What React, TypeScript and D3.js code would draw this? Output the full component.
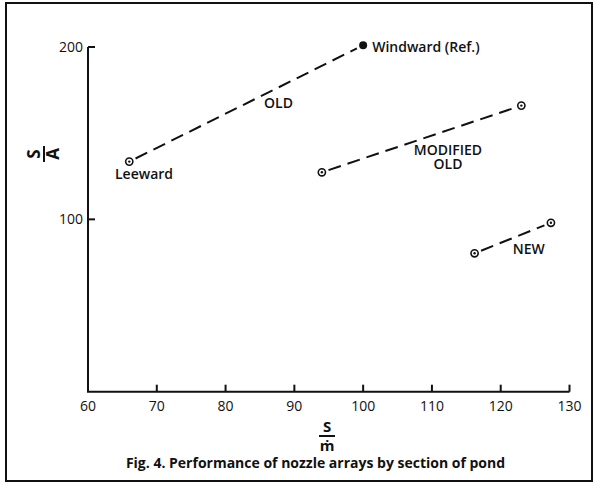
import * as d3 from "d3";

// ---- data ----
const series = ["OLD", "MODIFIED OLD", "NEW"];
const sPerMdot = [
  [66, 100], // OLD: Leeward -> Windward
  [94, 123], // MODIFIED OLD
  [116.2, 127.3], // NEW
];
const sPerA = [
  [133.5, 201],
  [127.3, 166],
  [80.3, 98],
];
const xTicks = [60, 70, 80, 90, 100, 110, 120, 130];
const yTicks = [100, 200];

const W = 594;
const H = 484;
const FONT = "'Open Sans', 'DejaVu Sans', sans-serif";
const INK = "#111";

export default function App() {
  const x = d3.scaleLinear().domain([60, 130]).range([88, 569.5]);
  const y = d3.scaleLinear().domain([0, 200]).range([391.7, 47]);
  const line = d3.line<[number, number]>().x((d) => x(d[0])).y((d) => y(d[1]));

  // trim dashed segment so it stops short of the markers
  const trimmed = (i: number): [number, number][] => {
    const [x0, x1] = sPerMdot[i];
    const [y0, y1] = sPerA[i];
    const px0 = x(x0), py0 = y(y0), px1 = x(x1), py1 = y(y1);
    const len = Math.hypot(px1 - px0, py1 - py0);
    const ux = (px1 - px0) / len, uy = (py1 - py0) / len;
    const g = 7;
    return [
      [x.invert(px0 + ux * g), y.invert(py0 + uy * g)],
      [x.invert(px1 - ux * g), y.invert(py1 - uy * g)],
    ];
  };

  const points = series.flatMap((s, i) =>
    sPerMdot[i].map((v, j) => ({ s, xv: v, yv: sPerA[i][j], solid: i === 0 && j === 1 }))
  );

  return (
    <svg
      width={W}
      height={H}
      style={{ position: "absolute", left: 0, top: 0, background: "#fff" }}
      fontFamily={FONT}
      fill={INK}
    >
      <rect x={6} y={3} width={586} height={478} fill="none" stroke={INK} strokeWidth={2} />

      {/* axes */}
      <path
        d={`M${x(60)},${y(200)}H${x(60)}V${y(0)}H${x(130)}`}
        fill="none"
        stroke={INK}
        strokeWidth={2}
      />
      {yTicks.map((t) => (
        <g key={t}>
          <line x1={x(60)} x2={x(60) + 7} y1={y(t)} y2={y(t)} stroke={INK} strokeWidth={2} />
          <text x={x(60) - 5} y={y(t)} dy="0.36em" textAnchor="end" fontSize={14} fontWeight={500}>
            {t}
          </text>
        </g>
      ))}
      {xTicks.map((t) => (
        <g key={t}>
          {t !== 60 && (
            <line x1={x(t)} x2={x(t)} y1={y(0)} y2={y(0) - 7} stroke={INK} strokeWidth={2} />
          )}
          <text x={x(t)} y={411} textAnchor="middle" fontSize={14} fontWeight={500}>
            {t}
          </text>
        </g>
      ))}

      {/* axis titles as fractions */}
      <g transform="translate(44,154) rotate(-90)" fontWeight={700} fontSize={17}>
        <line x1={-8} x2={8} y1={0} y2={0} stroke={INK} strokeWidth={2} />
        <text textAnchor="middle">
          <tspan x={0} y={-4}>S</tspan>
          <tspan x={0} y={15}>A</tspan>
        </text>
      </g>
      <g transform="translate(327,436)" fontWeight={700} fontSize={15}>
        <line x1={-8} x2={8} y1={0} y2={0} stroke={INK} strokeWidth={2} />
        <text textAnchor="middle">
          <tspan x={0} y={-4}>S</tspan>
          <tspan x={0} y={14.5}>ṁ</tspan>
        </text>
      </g>

      {/* dashed connections */}
      {series.map((s, i) => (
        <path
          key={s}
          d={line(trimmed(i)) ?? ""}
          fill="none"
          stroke={INK}
          strokeWidth={2}
          strokeDasharray="13,7"
        />
      ))}

      {/* markers */}
      {points.map((p, k) =>
        p.solid ? (
          <circle key={k} cx={x(p.xv)} cy={y(p.yv)} r={4} fill={INK} />
        ) : (
          <g key={k}>
            <circle cx={x(p.xv)} cy={y(p.yv)} r={3.6} fill="#fff" stroke={INK} strokeWidth={1.6} />
            <circle cx={x(p.xv)} cy={y(p.yv)} r={1.2} fill={INK} />
          </g>
        )
      )}

      {/* labels */}
      <g fontSize={14} fontWeight={600}>
        <text x={x(100) + 9} y={51.5}>Windward (Ref.)</text>
        <text x={144} y={178.5} textAnchor="middle">Leeward</text>
        <text x={278.5} y={107.5} textAnchor="middle">OLD</text>
        <text textAnchor="middle">
          <tspan x={448} y={155}>MODIFIED</tspan>
          <tspan x={448} y={168.5}>OLD</tspan>
        </text>
        <text x={528.7} y={253.5} textAnchor="middle">NEW</text>
      </g>

      <text x={315.5} y={468} textAnchor="middle" fontSize={14} fontWeight={700}>
        Fig. 4. Performance of nozzle arrays by section of pond
      </text>
    </svg>
  );
}
